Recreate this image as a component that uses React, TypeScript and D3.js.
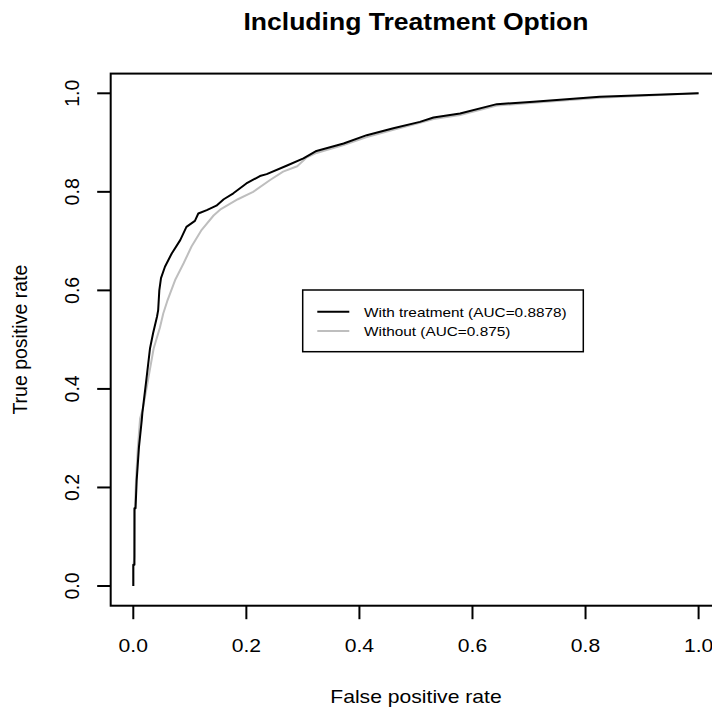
import React from "react";
import * as d3 from "d3";

const withFpr = [0, 0, 0.002, 0.002, 0.004, 0.006, 0.010, 0.015, 0.016, 0.023, 0.0295, 0.035, 0.042, 0.044, 0.046, 0.049, 0.056, 0.068, 0.083, 0.094, 0.109, 0.115, 0.13, 0.147, 0.16, 0.177, 0.2, 0.224, 0.236, 0.271, 0.301, 0.324, 0.372, 0.413, 0.46, 0.507, 0.531, 0.578, 0.643, 0.708, 0.825, 1];
const withTpr = [0, 0.043, 0.043, 0.158, 0.158, 0.215, 0.282, 0.337, 0.351, 0.418, 0.482, 0.513, 0.547, 0.56, 0.6, 0.625, 0.648, 0.675, 0.702, 0.729, 0.741, 0.756, 0.763, 0.772, 0.785, 0.797, 0.817, 0.832, 0.836, 0.853, 0.868, 0.883, 0.898, 0.915, 0.929, 0.942, 0.951, 0.959, 0.978, 0.983, 0.993, 1];

const withoutFpr = [0, 0, 0.002, 0.003, 0.005, 0.008, 0.012, 0.017, 0.026, 0.036, 0.047, 0.053, 0.06, 0.074, 0.089, 0.103, 0.121, 0.142, 0.155, 0.185, 0.212, 0.242, 0.265, 0.29, 0.307, 0.324, 0.372, 0.413, 0.46, 0.507, 0.531, 0.578, 0.643, 0.708, 0.825, 1];
const withoutTpr = [0, 0.04, 0.06, 0.16, 0.22, 0.28, 0.34, 0.36, 0.418, 0.482, 0.524, 0.553, 0.578, 0.621, 0.655, 0.689, 0.723, 0.752, 0.765, 0.785, 0.8, 0.824, 0.841, 0.852, 0.87, 0.879, 0.895, 0.911, 0.926, 0.94, 0.948, 0.956, 0.975, 0.981, 0.991, 1];

const ticks = [0, 0.2, 0.4, 0.6, 0.8, 1.0];
const tickLabels = ["0.0", "0.2", "0.4", "0.6", "0.8", "1.0"];
const seriesNames = ["With treatment (AUC=0.8878)", "Without (AUC=0.875)"];
const seriesColors = ["#000000", "#bebebe"];
const title = "Including Treatment Option";
const xTitle = "False positive rate";
const yTitle = "True positive rate";

export default function App() {
  const W = 712, H = 710;
  const x = d3.scaleLinear().domain([0, 1]).range([133.3, 698.6]);
  const y = d3.scaleLinear().domain([0, 1]).range([586, 93.3]);
  const x0 = x(-0.04), x1 = x(1.04), y0 = y(-0.04), y1 = y(1.04);
  const font = "'Liberation Sans', Arial, Helvetica, sans-serif";
  const line = d3.line<[number, number]>().x(d => x(d[0])).y(d => y(d[1]));
  const withPts = withFpr.map((f, i) => [f, withTpr[i]] as [number, number]);
  const withoutPts = withoutFpr.map((f, i) => [f, withoutTpr[i]] as [number, number]);
  const tl = 13.5;
  const sx = 1.13;
  const lg = { x: 302.7, y: 290, w: 280.6, h: 61.7 };
  const cx = (x0 + x1) / 2;
  return (
    <svg width={W} height={H} style={{ position: "absolute", left: 0, top: 0, background: "#fff" }} fontFamily={font}>
      <rect x={0} y={0} width={W} height={H} fill="#fff" />
      <text transform={`translate(${cx},30) scale(${sx},1)`} textAnchor="middle" fontWeight="bold" fontSize={23.5}>{title}</text>
      <path d={line(withoutPts) || ""} fill="none" stroke={seriesColors[1]} strokeWidth={2} strokeLinejoin="round" />
      <path d={line(withPts) || ""} fill="none" stroke={seriesColors[0]} strokeWidth={2} strokeLinejoin="round" />
      <rect x={x0} y={y1} width={x1 - x0} height={y0 - y1} fill="none" stroke="#000" strokeWidth={2} />
      {ticks.map((t, i) => (
        <g key={"x" + i}>
          <line x1={x(t)} x2={x(t)} y1={y0} y2={y0 + tl} stroke="#000" strokeWidth={2} />
          <text transform={`translate(${x(t)},651.7) scale(${sx},1)`} textAnchor="middle" fontSize={18.7}>{tickLabels[i]}</text>
        </g>
      ))}
      {ticks.map((t, i) => (
        <g key={"y" + i}>
          <line x1={x0 - tl} x2={x0} y1={y(t)} y2={y(t)} stroke="#000" strokeWidth={2} />
          <text transform={`translate(79,${y(t)}) rotate(-90)`} textAnchor="middle" fontSize={19.5}>{tickLabels[i]}</text>
        </g>
      ))}
      <text transform={`translate(${cx},703) scale(${sx},1)`} textAnchor="middle" fontSize={18.7}>{xTitle}</text>
      <text transform={`translate(27,${(y0 + y1) / 2}) rotate(-90)`} textAnchor="middle" fontSize={19.5}>{yTitle}</text>
      <rect x={lg.x} y={lg.y} width={lg.w} height={lg.h} fill="#fff" stroke="#000" strokeWidth={1.5} />
      {seriesNames.map((n, i) => (
        <g key={"l" + i}>
          <line x1={317.3} x2={349.3} y1={311.7 + i * 19.3} y2={311.7 + i * 19.3} stroke={seriesColors[i]} strokeWidth={2} />
          <text transform={`translate(364,${311.7 + i * 19.3 + 5}) scale(${sx},1)`} fontSize={13.6}>{n}</text>
        </g>
      ))}
    </svg>
  );
}
